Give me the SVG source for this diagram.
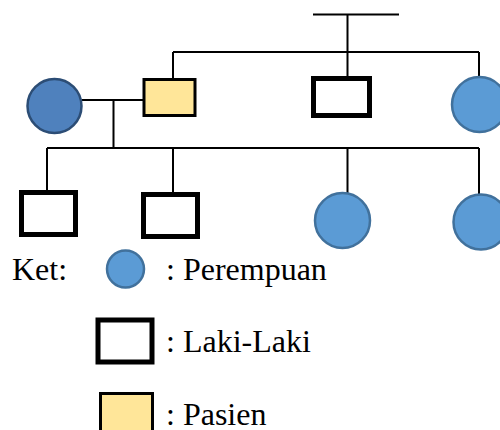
<svg xmlns="http://www.w3.org/2000/svg" width="500" height="430" viewBox="0 0 500 430">
<style>
.ln{stroke:#000;stroke-width:2;fill:none}
.fem{fill:#5B9BD5;stroke:#41719C;stroke-width:2.5}
.mom{fill:#4F81BD;stroke:#2C4D75;stroke-width:2.5}
.male{fill:#fff;stroke:#000;stroke-width:5}
.pat{fill:#FFE699;stroke:#000;stroke-width:3}
.txt{font-family:"Liberation Serif","Times New Roman",serif;font-size:32px;fill:#000}
</style>
<rect width="500" height="430" fill="#fff"/>
<g id="connectors">
<path class="ln" d="M313,14.5H399M347.5,14.5V78M173,52H479M173,52V79M479,52V77"/>
<path class="ln" d="M82,100H143M113.5,100V148M47,148H479M47,148V191M173,148V193M347.5,148V194M479,148V195"/>
</g>
<g id="mother"><circle class="mom" cx="54.5" cy="106" r="27"/></g>
<g id="patient"><rect class="pat" x="144" y="79.5" width="51" height="36"/></g>
<g id="uncle"><rect class="male" x="313.5" y="78.5" width="56" height="37"/></g>
<g id="aunt"><circle class="fem" cx="479.5" cy="104.5" r="27.5"/></g>
<g id="son1"><rect class="male" x="21.5" y="192.5" width="54" height="42"/></g>
<g id="son2"><rect class="male" x="143.5" y="194.5" width="54" height="42"/></g>
<g id="daughter1"><circle class="fem" cx="342.5" cy="220.5" r="27.5"/></g>
<g id="daughter2"><circle class="fem" cx="481" cy="222" r="27.5"/></g>
<g id="legend">
<text class="txt" x="12" y="279.5">Ket:</text>
<circle class="fem" cx="125.5" cy="269" r="18.5"/>
<text class="txt" x="166" y="279.5">: Perempuan</text>
<rect class="male" x="98" y="320" width="54" height="42"/>
<text class="txt" x="166" y="351.7">: Laki-Laki</text>
<rect class="pat" x="100.5" y="393.5" width="52" height="45"/>
<text class="txt" x="166" y="424.5">: Pasien</text>
</g>
</svg>
